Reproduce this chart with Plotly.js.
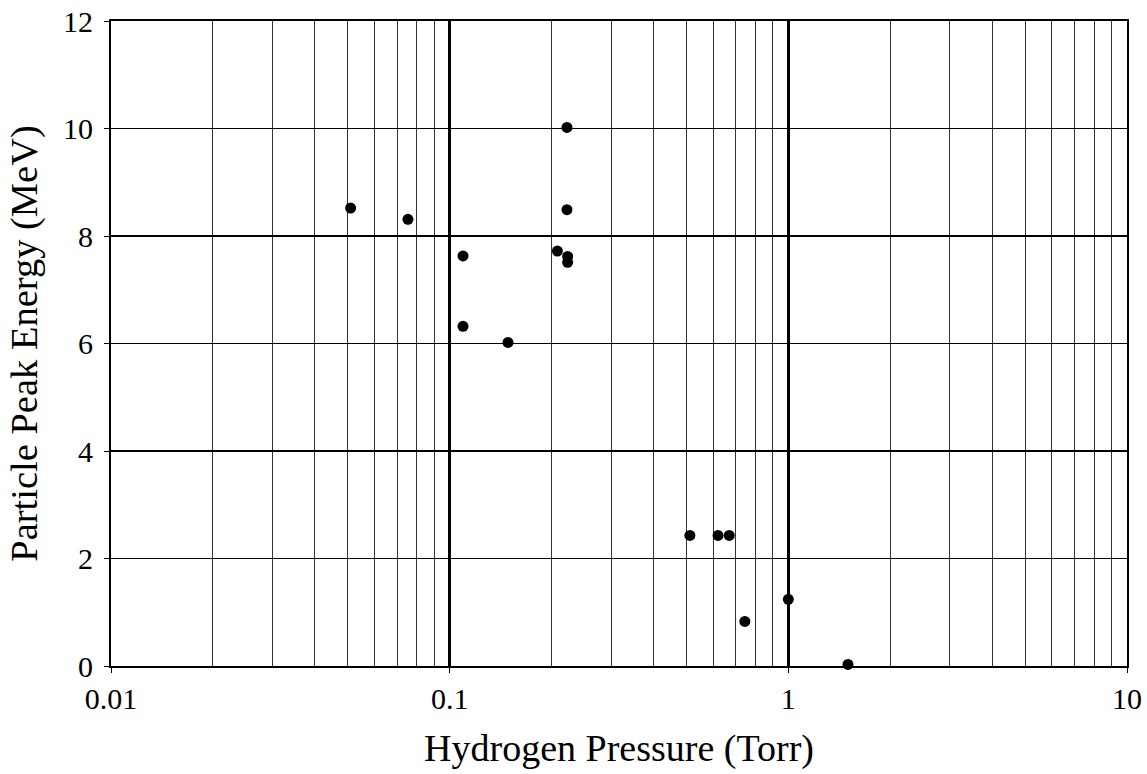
<!DOCTYPE html>
<html>
<head>
<meta charset="utf-8">
<script src="https://cdn.plot.ly/plotly-3.0.1.min.js"></script>
<style>html,body{margin:0;padding:0;background:#fff;}#chart{width:1147px;height:774px;}</style>
</head>
<body>
<div id="chart"></div>
<script>
// Hydrogen pressure (Torr) and particle peak energy (MeV)
const pressure = [0.051, 0.0753, 0.1095, 0.1095, 0.1487, 0.208, 0.222, 0.222, 0.223, 0.223, 0.512, 0.62, 0.669, 0.744, 1.0, 1.5];
const energy   = [8.52,  8.31,   7.63,   6.32,   6.02,   7.72,  10.02, 8.49,  7.62,  7.51,  2.43,  2.43, 2.43,  0.83,  1.24, 0.03];
const xTickVals = [0.01, 0.1, 1, 10];
const xTickText = ['0.01', '0.1', '1', '10'];
const yTickVals = [0, 2, 4, 6, 8, 10, 12];

const font = '"Liberation Serif", "Times New Roman", serif';
const trace = {
  x: pressure, y: energy, type: 'scatter', mode: 'markers',
  marker: {color: '#000', size: 11, line: {width: 0}},
  cliponaxis: false, hoverinfo: 'x+y'
};
const layout = {
  width: 1147, height: 774,
  margin: {l: 111, r: 20, t: 21, b: 107.5},
  paper_bgcolor: '#fff', plot_bgcolor: '#fff',
  showlegend: false,
  font: {family: font, color: '#000', size: 30},
  xaxis: {
    type: 'log', range: [-2, 1],
    tickvals: xTickVals, ticktext: xTickText,
    showgrid: true, gridcolor: '#000', gridwidth: 2.5,
    minor: {showgrid: true, gridcolor: '#333', gridwidth: 1, ticks: '', dtick: 'D1'},
    ticks: 'outside', ticklen: 5, tickcolor: '#000',
    showline: true, linecolor: '#000', linewidth: 2, mirror: true,
    zeroline: false,
    tickfont: {family: font, size: 30, color: '#000'},
    title: {text: 'Hydrogen Pressure (Torr)', font: {family: font, size: 38, color: '#000'}, standoff: 20}
  },
  yaxis: {
    range: [0, 12], tickvals: yTickVals,
    showgrid: true, gridcolor: '#000', gridwidth: 1.5,
    ticks: 'outside', ticklen: 5, tickcolor: '#000', ticklabelstandoff: 5,
    showline: true, linecolor: '#000', linewidth: 2, mirror: true,
    zeroline: false,
    tickfont: {family: font, size: 30, color: '#000'},
    title: {text: 'Particle Peak Energy (MeV)', font: {family: font, size: 38.5, color: '#000'}, standoff: 14}
  }
};
Plotly.newPlot('chart', [trace], layout, {displayModeBar: false, staticPlot: true});
</script>
</body>
</html>
